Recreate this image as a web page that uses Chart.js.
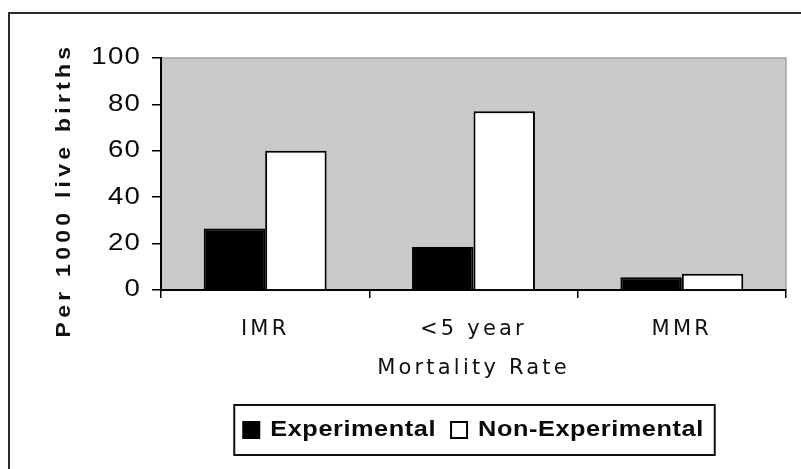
<!DOCTYPE html>
<html>
<head>
<meta charset="utf-8">
<script src="https://cdn.jsdelivr.net/npm/chart.js@4.4.1/dist/chart.umd.min.js"></script>
<style>
  html, body { margin: 0; padding: 0; background: #fff; }
  canvas { display: block; }
</style>
</head>
<body>
<canvas id="chart" width="801" height="469"></canvas>
<script>
// Mortality rates per 1000 live births
const categories = ['IMR', '<5 year', 'MMR'];
const experimental = [26.5, 18.5, 5.5];
const nonExperimental = [60, 77, 7];
const seriesNames = ['Experimental', 'Non-Experimental'];
const yTicks = [0, 20, 40, 60, 80, 100];
const xTitle = 'Mortality Rate';
const yTitle = 'Per 1000 live births';

const canvas = document.getElementById('chart');
const ctx = canvas.getContext('2d');

// Wide, spaced-out lettering: per font (weight + size) a horizontal stretch and a letter spacing
function textStyleFor(font) {
  const bold = /bold|700/.test(font);
  const m = font.match(/(\d+(?:\.\d+)?)px/);
  const size = m ? parseFloat(m[1]) : 12;
  if (bold && size === 22) return { stretch: 1.15, spacing: 0.5 };   // legend
  if (bold && size === 20) return { stretch: 1.15, spacing: 3.7 };   // value axis title
  if (!bold && size === 23) return { stretch: 1.2, spacing: 1 };     // value ticks
  if (!bold && size === 21) return { stretch: 1, spacing: 3.2 };     // category ticks + title
  return { stretch: 1, spacing: 0 };
}
const baseFill = ctx.fillText;
const baseMeasure = ctx.measureText;
ctx.fillText = function (text, x, y, maxWidth) {
  const s = textStyleFor(this.font);
  this.letterSpacing = s.spacing + 'px';
  if (s.stretch === 1) {
    return maxWidth === undefined ? baseFill.call(this, text, x, y) : baseFill.call(this, text, x, y, maxWidth);
  }
  this.save();
  this.translate(x, y);
  this.scale(s.stretch, 1);
  baseFill.call(this, text, 0, 0);
  this.restore();
};
ctx.measureText = function (text) {
  const s = textStyleFor(this.font);
  this.letterSpacing = s.spacing + 'px';
  const m = baseMeasure.call(this, text);
  if (s.stretch === 1) return m;
  return {
    width: m.width * s.stretch,
    actualBoundingBoxLeft: m.actualBoundingBoxLeft * s.stretch,
    actualBoundingBoxRight: m.actualBoundingBoxRight * s.stretch,
    actualBoundingBoxAscent: m.actualBoundingBoxAscent,
    actualBoundingBoxDescent: m.actualBoundingBoxDescent,
    fontBoundingBoxAscent: m.fontBoundingBoxAscent,
    fontBoundingBoxDescent: m.fontBoundingBoxDescent
  };
};

const decorations = {
  id: 'decorations',
  beforeDraw(chart) {
    const { ctx, chartArea: a } = chart;
    ctx.save();
    // plot area fill
    ctx.fillStyle = '#c9c9cb';
    ctx.fillRect(a.left, a.top, a.right - a.left, a.bottom - a.top);
    // light top/right edge of plot area
    ctx.strokeStyle = '#a2a2a4';
    ctx.lineWidth = 1.5;
    ctx.beginPath();
    ctx.moveTo(a.left, a.top);
    ctx.lineTo(a.right, a.top);
    ctx.lineTo(a.right, a.bottom);
    ctx.stroke();
    // outer chart frame
    ctx.strokeStyle = '#2b2b2b';
    ctx.lineWidth = 2;
    ctx.beginPath();
    ctx.moveTo(9, chart.height + 2);
    ctx.lineTo(9, 13);
    ctx.lineTo(chart.width + 2, 13);
    ctx.stroke();
    ctx.restore();
  },
  afterDraw(chart) {
    const { ctx } = chart;
    ctx.save();
    // legend frame
    const boxes = chart.legend.legendHitBoxes;
    const first = boxes[0];
    const last = boxes[boxes.length - 1];
    const cy = first.top + first.height / 2;
    const left = first.left - 9;
    const right = last.left + last.width + 11;
    ctx.strokeStyle = '#111';
    ctx.lineWidth = 2;
    ctx.strokeRect(left, cy - 25, right - left, 50);
    // value axis title
    ctx.font = 'bold 20px "Liberation Sans", Arial, sans-serif';
    ctx.fillStyle = '#111';
    ctx.textAlign = 'center';
    ctx.textBaseline = 'alphabetic';
    ctx.translate(70, 190);
    ctx.rotate(-Math.PI / 2);
    ctx.fillText(yTitle, 0, 0);
    ctx.restore();
  }
};

new Chart(ctx, {
  type: 'bar',
  data: {
    labels: categories,
    datasets: [
      {
        label: seriesNames[0],
        data: experimental,
        backgroundColor: '#000',
        borderColor: '#000',
        borderWidth: 2
      },
      {
        label: seriesNames[1],
        data: nonExperimental,
        backgroundColor: '#fff',
        borderColor: '#000',
        borderWidth: 2
      }
    ]
  },
  options: {
    responsive: false,
    animation: false,
    devicePixelRatio: 1,
    layout: { padding: { left: 0, top: 58, right: 15, bottom: 18 } },
    datasets: {
      bar: { categoryPercentage: 0.59, barPercentage: 1 }
    },
    scales: {
      x: {
        grid: {
          offset: true,
          drawOnChartArea: false,
          drawTicks: true,
          tickLength: 8,
          color: '#000',
          lineWidth: 1.5
        },
        border: { color: '#000', width: 2 },
        ticks: {
          color: '#111',
          padding: 19,
          maxRotation: 0,
          autoSkip: false,
          font: { family: '"DejaVu Sans", sans-serif', size: 21 }
        },
        title: {
          display: true,
          text: xTitle,
          color: '#111',
          padding: { top: 0, bottom: 22.5 },
          font: { family: '"DejaVu Sans", sans-serif', size: 21 }
        },
        afterFit(scale) { scale.height = 114; }
      },
      y: {
        min: yTicks[0],
        max: yTicks[yTicks.length - 1],
        ticks: {
          stepSize: yTicks[1] - yTicks[0],
          color: '#0a0a0a',
          padding: 11,
          font: { family: '"Liberation Sans", Arial, sans-serif', size: 23 }
        },
        grid: {
          drawOnChartArea: false,
          drawTicks: true,
          tickLength: 9,
          color: '#000',
          lineWidth: 1.5
        },
        border: { color: '#000', width: 2 },
        afterFit(scale) { scale.width = 161; }
      }
    },
    plugins: {
      legend: {
        position: 'bottom',
        fullSize: false,
        labels: {
          color: '#0a0a0a',
          boxWidth: 16,
          boxHeight: 16,
          padding: 15,
          font: { family: '"Liberation Sans", Arial, sans-serif', size: 22, weight: 'bold' }
        }
      },
      tooltip: { enabled: false }
    }
  },
  plugins: [decorations]
});
</script>
</body>
</html>
